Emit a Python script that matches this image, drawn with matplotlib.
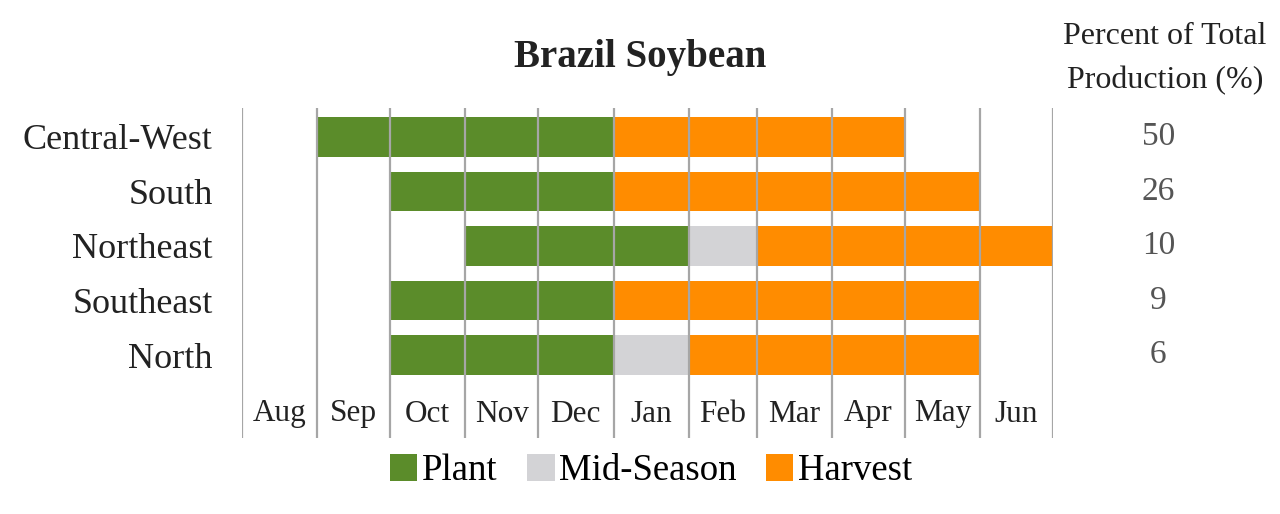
import numpy as np
import matplotlib.pyplot as plt
from matplotlib.patches import Patch

plt.rcParams['font.family'] = ['Liberation Serif', 'DejaVu Serif']

months = ['Aug', 'Sep', 'Oct', 'Nov', 'Dec', 'Jan', 'Feb', 'Mar', 'Apr', 'May', 'Jun']
month_days = [31, 30, 31, 30, 31, 31, 28, 31, 30, 31, 30]

regions = ['Central-West', 'South', 'Northeast', 'Southeast', 'North']
share = [50, 26, 10, 9, 6]

# (start month, end month) -- end is exclusive, 'Jul' = end of season
plant = [('Sep', 'Jan'), ('Oct', 'Jan'), ('Nov', 'Feb'), ('Oct', 'Jan'), ('Oct', 'Jan')]
mid_season = [None, None, ('Feb', 'Mar'), None, ('Jan', 'Feb')]
harvest = [('Jan', 'May'), ('Jan', 'Jun'), ('Mar', 'Jul'), ('Jan', 'Jun'), ('Feb', 'Jun')]

colors = {'Plant': '#5b8c2a', 'Mid-Season': '#d3d3d6', 'Harvest': '#ff8c00'}

# month boundaries in days
edges = np.concatenate([[0], np.cumsum(month_days)])
pos = {m: edges[i] for i, m in enumerate(months + ['Jul'])}

fig = plt.figure(figsize=(12.8, 5.14), dpi=100)
ax = fig.add_axes([242 / 1280, 1 - 438 / 514, (1053 - 242) / 1280, (438 - 108) / 514])

for stage, spans in [('Plant', plant), ('Mid-Season', mid_season), ('Harvest', harvest)]:
    for i, sp in enumerate(spans):
        if sp is None:
            continue
        ax.barh(i, pos[sp[1]] - pos[sp[0]], left=pos[sp[0]], height=0.72,
                color=colors[stage], zorder=2)

for e in edges:
    ax.axvline(e, color='#a6a6a6', lw=1.6, zorder=3)

mids = (edges[:-1] + edges[1:]) / 2
for m, x in zip(months, mids):
    ax.text(x, 5.08, m, ha='center', va='center', fontsize=22.5, color='#222222')

ax.set_xlim(edges[0], edges[-1])
ax.set_ylim(5.52, -0.53)
ax.set_yticks(range(len(regions)))
ax.set_yticklabels(regions, fontsize=26, color='#222222')
ax.tick_params(axis='y', length=0, pad=21)
ax.set_xticks([])
for s in ax.spines.values():
    s.set_visible(False)

# percent column
for i, v in enumerate(share):
    ax.text(1.13, i, str(v), transform=ax.get_yaxis_transform(), ha='center', va='center',
            fontsize=24, color='#555555')
fig.text(1165 / 1280, 1 - 36 / 514, 'Percent of Total', ha='center', va='center', fontsize=23, color='#222222')
fig.text(1165 / 1280, 1 - 81 / 514, 'Production (%)', ha='center', va='center', fontsize=23, color='#222222')

fig.text(640 / 1280, 1 - 57 / 514, 'Brazil Soybean', ha='center', va='center', fontsize=28,
         fontweight='bold', color='#222222')

handles = [Patch(facecolor=colors[k], edgecolor='none', label=k) for k in colors]
fig.legend(handles=handles, loc='center', bbox_to_anchor=(651 / 1280, 1 - 471 / 514), ncol=3,
           frameon=False, fontsize=26.5, handlelength=0.75, handleheight=0.75,
           handletextpad=0.12, columnspacing=0.8)

fig.savefig('out.png', dpi=100, facecolor='white')
